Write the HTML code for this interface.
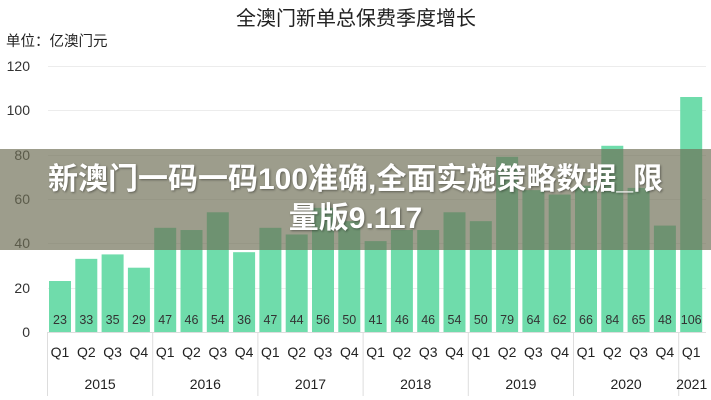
<!DOCTYPE html>
<html><head><meta charset="utf-8"><style>
body{margin:0;width:711px;height:400px;overflow:hidden;background:#fff;font-family:"Liberation Sans","Noto Sans CJK SC",sans-serif;}
</style></head><body>
<svg width="711" height="400" xmlns="http://www.w3.org/2000/svg" style="position:absolute;left:0;top:0">
<g font-family="Liberation Sans, Noto Sans CJK SC, sans-serif">
<text x="356" y="25" font-size="20" text-anchor="middle" fill="#222">全澳门新单总保费季度增长</text>
<text x="6" y="46" font-size="14.5" fill="#222">单位：亿澳门元</text>
<g stroke="#ececec" stroke-width="1">
<line x1="48" x2="706" y1="66.5" y2="66.5"/><line x1="48" x2="706" y1="110.5" y2="110.5"/>
<line x1="48" x2="706" y1="155.5" y2="155.5"/><line x1="48" x2="706" y1="199.5" y2="199.5"/>
<line x1="48" x2="706" y1="243.5" y2="243.5"/><line x1="48" x2="706" y1="288.5" y2="288.5"/>
</g>
<g font-size="14" fill="#333" text-anchor="end">
<text x="30" y="71">120</text><text x="30" y="115">100</text><text x="30" y="160">80</text>
<text x="30" y="204">60</text><text x="30" y="248">40</text><text x="30" y="293">20</text><text x="30" y="337">0</text>
</g>
<g id="bars"></g>
</g>
</svg>
<script>
var v=[23,33,35,29,47,46,54,36,47,44,56,50,41,46,46,54,50,79,64,62,66,84,65,48,106];
var s='';
for(var i=0;i<25;i++){var x=49+i*26.3,h=v[i]*2.217;
s+='<rect x="'+x+'" y="'+(332-h)+'" width="22" height="'+h+'" fill="#6fdcab"/>';
s+='<text x="'+(x+11)+'" y="324" font-size="12.5" fill="#333" text-anchor="middle">'+v[i]+'</text>';
s+='<text x="'+(x+11)+'" y="357" font-size="14" fill="#222" text-anchor="middle">Q'+(i%4+1)+'</text>';}
var yrs=['2015','2016','2017','2018','2019','2020','2021'];
for(var j=0;j<7;j++){var x0=47.5+j*4*26.3;
s+='<line x1="'+x0+'" x2="'+x0+'" y1="332" y2="396" stroke="#ddd"/>';
var cx=j<6?x0+2*26.3:x0+13;
s+='<text x="'+cx+'" y="389" font-size="14" fill="#222" text-anchor="middle">'+yrs[j]+'</text>';}
s+='<line x1="48" x2="706" y1="332.5" y2="332.5" stroke="#ddd"/>';
document.getElementById('bars').innerHTML=s;
</script>
<div style="position:absolute;left:0;top:149px;width:711px;height:101px;background:rgba(110,110,85,0.68);"></div>
<div style="position:absolute;left:0;top:160px;width:711px;text-align:center;color:#fff;font-weight:bold;font-size:30px;line-height:39px;font-family:'Liberation Sans','Noto Sans CJK SC',sans-serif;text-shadow:1px 1px 2px rgba(0,0,0,0.4);">新澳门一码一码100准确,全面实施策略数据_限<br>量版9.117</div>
</body></html>
